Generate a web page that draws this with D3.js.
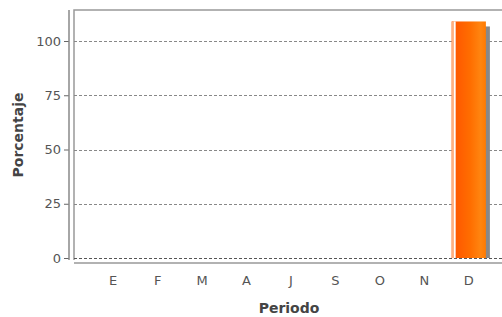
<!DOCTYPE html>
<html>
<head>
<meta charset="utf-8">
<script src="https://cdn.jsdelivr.net/npm/d3@7"></script>
<style>
  body { margin: 0; background: #fff; }
  text { font-family: "DejaVu Sans", sans-serif; }
</style>
</head>
<body>
<svg width="502" height="317"></svg>
<script>
// datos
const meses = ["E", "F", "M", "A", "J", "S", "O", "N", "D"];
const valores = [0, 0, 0, 0, 0, 0, 0, 0, 109];
const yTicks = [0, 25, 50, 75, 100];

const width = 502, height = 317;
const plot = { left: 74, right: 502, top: 10, bottom: 260 };

const svg = d3.select("svg");

const x = d3.scaleBand()
    .domain(meses)
    .range([91, 491])
    .paddingInner(0.23)
    .paddingOuter(0.115);

const y = d3.scaleLinear()
    .domain([0, 100])
    .range([258, 41]);

const datos = valores.map((v, i) => ({ mes: meses[i], v }));

// gradiente de la barra
const defs = svg.append("defs");
const grad = defs.append("linearGradient").attr("id", "barGrad")
    .attr("x1", "0").attr("x2", "1").attr("y1", "0").attr("y2", "0");
grad.append("stop").attr("offset", "0").attr("stop-color", "#ff5200");
grad.append("stop").attr("offset", "0.55").attr("stop-color", "#ff6e00");
grad.append("stop").attr("offset", "0.85").attr("stop-color", "#ff8510");
grad.append("stop").attr("offset", "1").attr("stop-color", "#ff7a00");

// marco del area
svg.append("path")
    .attr("d", `M${plot.left},${plot.bottom}V${plot.top}H${plot.right}`)
    .attr("fill", "none")
    .attr("stroke", "#999")
    .attr("stroke-width", 1.5);

// lineas de cuadricula
svg.append("g").selectAll("line")
    .data(yTicks)
    .enter().append("line")
    .attr("x1", plot.left)
    .attr("x2", plot.right)
    .attr("y1", d => Math.round(y(d)) + 0.5)
    .attr("y2", d => Math.round(y(d)) + 0.5)
    .attr("stroke", d => d === 0 ? "#555" : "#888")
    .attr("stroke-dasharray", "3,2")
    .attr("stroke-width", 1);

// sombra de barras
svg.append("g").selectAll("rect")
    .data(datos.filter(d => d.v > 0))
    .enter().append("rect")
    .attr("x", d => x(d.mes) + 4)
    .attr("y", d => y(d.v) + 5)
    .attr("width", x.bandwidth())
    .attr("height", d => Math.max(0, y(0) - y(d.v) - 5))
    .attr("fill", "#888");

// barras
const bars = svg.append("g").selectAll("g")
    .data(datos)
    .enter().append("g");

bars.append("rect")
    .attr("x", d => x(d.mes))
    .attr("y", d => y(d.v))
    .attr("width", x.bandwidth())
    .attr("height", d => y(0) - y(d.v))
    .attr("fill", "url(#barGrad)");

// brillo a la izquierda
bars.filter(d => d.v > 0).append("rect")
    .attr("x", d => x(d.mes))
    .attr("y", d => y(d.v))
    .attr("width", 2)
    .attr("height", d => y(0) - y(d.v))
    .attr("fill", "#ffb080");
bars.filter(d => d.v > 0).append("rect")
    .attr("x", d => x(d.mes) + 2)
    .attr("y", d => y(d.v))
    .attr("width", 2)
    .attr("height", d => y(0) - y(d.v))
    .attr("fill", "#fff");

// eje Y
const yAxis = d3.axisLeft(y).tickValues(yTicks).tickSize(5).tickPadding(3);
const gy = svg.append("g")
    .attr("transform", "translate(69,0)")
    .call(yAxis);
gy.select(".domain").remove();
gy.append("line")
    .attr("x1", 0).attr("x2", 0)
    .attr("y1", plot.top).attr("y2", plot.bottom)
    .attr("stroke", "#888").attr("stroke-width", 1.5);
gy.selectAll(".tick line").attr("stroke", "#666");
gy.selectAll(".tick text")
    .attr("fill", "#555")
    .style("font-size", "13px");

// eje X
const xAxis = d3.axisBottom(x).tickSize(0).tickPadding(13);
const gx = svg.append("g")
    .attr("transform", "translate(0,263)")
    .call(xAxis);
gx.select(".domain").remove();
gx.append("line")
    .attr("x1", plot.left).attr("x2", plot.right)
    .attr("y1", 0).attr("y2", 0)
    .attr("stroke", "#999").attr("stroke-width", 1.5);
gx.selectAll(".tick text")
    .attr("fill", "#555")
    .style("font-size", "13px");

// titulos de ejes
svg.append("text")
    .attr("transform", "translate(23,135) rotate(-90)")
    .attr("text-anchor", "middle")
    .attr("fill", "#444")
    .style("font-size", "14px")
    .style("font-weight", "bold")
    .text("Porcentaje");

svg.append("text")
    .attr("x", 289)
    .attr("y", 313)
    .attr("text-anchor", "middle")
    .attr("fill", "#444")
    .style("font-size", "14px")
    .style("font-weight", "bold")
    .text("Periodo");
</script>
</body>
</html>
